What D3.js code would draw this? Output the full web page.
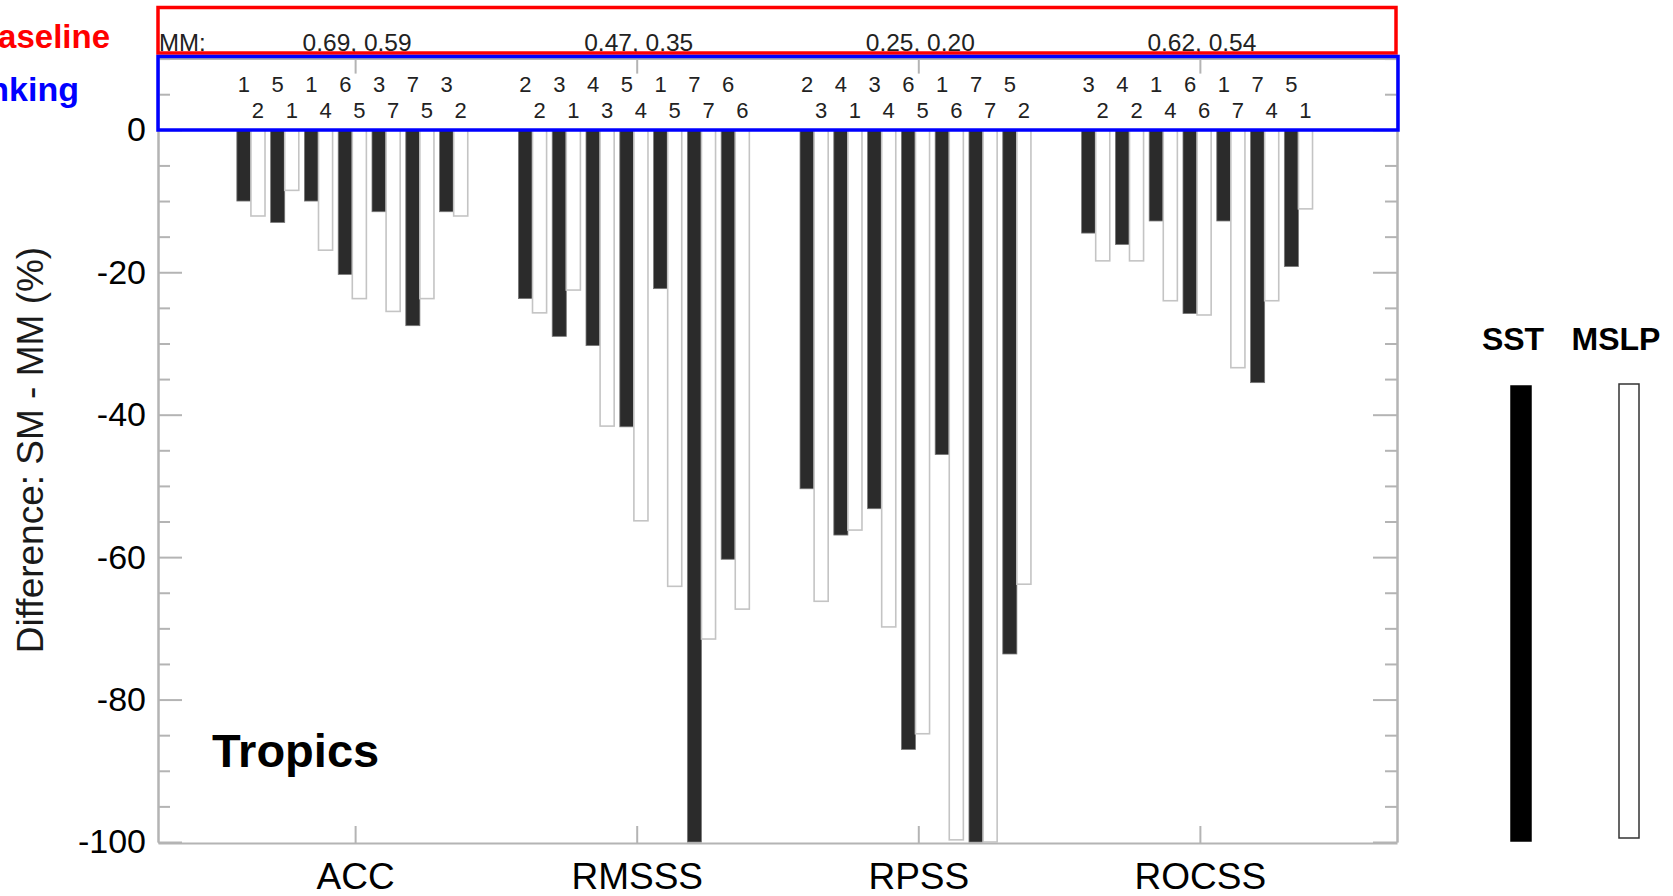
<!DOCTYPE html>
<html>
<head>
<meta charset="utf-8">
<script src="https://cdn.jsdelivr.net/npm/d3@7"></script>
<style>
  body { margin: 0; background: #fff; }
  text { font-family: "Liberation Sans", Arial, Helvetica, sans-serif; }
</style>
</head>
<body>
<svg id="chart"></svg>
<script>
// Data
const categories = ['ACC', 'RMSSS', 'RPSS', 'ROCSS']
const mmScores = ['0.69, 0.59', '0.47, 0.35', '0.25, 0.20', '0.62, 0.54']
const sstDiff = [
    [-10.0, -13.0, -10.0, -20.3, -11.5, -27.5, -11.5],
    [-23.7, -29.0, -30.3, -41.7, -22.3, -100, -60.3],
    [-50.4, -56.9, -53.2, -87.0, -45.6, -100, -73.6],
    [-14.5, -16.1, -12.8, -25.8, -12.8, -35.5, -19.2]
]
const mslpDiff = [
    [-12.1, -8.5, -16.9, -23.7, -25.5, -23.7, -12.1],
    [-25.7, -22.5, -41.6, -54.9, -64.1, -71.5, -67.3],
    [-66.2, -56.2, -69.8, -84.8, -99.7, -100, -63.8],
    [-18.4, -18.4, -24.0, -26.0, -33.4, -24.0, -11.1]
]
const sstRank = [[1, 5, 1, 6, 3, 7, 3], [2, 3, 4, 5, 1, 7, 6], [2, 4, 3, 6, 1, 7, 5], [3, 4, 1, 6, 1, 7, 5]]
const mslpRank = [[2, 1, 4, 5, 7, 5, 2], [2, 1, 3, 4, 5, 7, 6], [3, 1, 4, 5, 6, 7, 2], [2, 2, 4, 6, 7, 4, 1]]
const yMajor = [0, -20, -40, -60, -80, -100]
const yMinor = d3.range(10, -101, -5).filter(v => v % 20 !== 0)

const W = 1673, H = 896
const svg = d3.select('#chart').attr('width', W).attr('height', H)

// Scales
const x = d3.scaleLinear().domain([0.3, 4.7]).range([158, 1397])
const y = d3.scaleLinear().domain([-100, 10]).range([842, 58.6])
const pair = d3.scaleBand().domain(d3.range(7)).range([-0.42, 0.42])
const barW = 0.05

const axisColor = '#b4b4b4'

// Frame / axes
function styleAxis(g) {
    g.selectAll('path, line').attr('stroke', axisColor).attr('stroke-width', 2)
    g.selectAll('text').attr('fill', '#000')
}

svg.append('g').attr('transform', `translate(${x.range()[0]},0)`)
    .call(d3.axisLeft(y).tickValues(yMinor).tickSize(-12).tickSizeOuter(0).tickFormat(''))
    .call(styleAxis)
svg.append('g').attr('transform', `translate(${x.range()[0]},0)`)
    .call(d3.axisLeft(y).tickValues(yMajor).tickSize(-24).tickSizeOuter(0).tickPadding(12).tickFormat(d => String(d)))
    .call(styleAxis)
    .selectAll('text').attr('font-size', 34)

svg.append('g').attr('transform', `translate(${x.range()[1]},0)`)
    .call(d3.axisRight(y).tickValues(yMinor).tickSize(-12).tickSizeOuter(0).tickFormat(''))
    .call(styleAxis)
svg.append('g').attr('transform', `translate(${x.range()[1]},0)`)
    .call(d3.axisRight(y).tickValues(yMajor).tickSize(-24).tickSizeOuter(0).tickFormat(''))
    .call(styleAxis)

svg.append('g').attr('transform', `translate(0,${y.range()[1]})`)
    .call(d3.axisTop(x).tickValues([1, 2, 3, 4]).tickSize(-15).tickSizeOuter(0).tickFormat(''))
    .call(styleAxis)
svg.append('g').attr('transform', `translate(0,${y.range()[0] + 1})`)
    .call(d3.axisBottom(x).tickValues([1, 2, 3, 4]).tickSize(-17).tickSizeOuter(0).tickPadding(20)
        .tickFormat((d, i) => categories[i]))
    .call(styleAxis)
    .selectAll('text').attr('font-size', 37)

// Bars
const groups = svg.append('g').selectAll('g')
    .data(categories)
    .join('g')

groups.selectAll('rect.sst')
    .data((d, gi) => sstDiff[gi].map((v, i) => ({ gi, i, v })))
    .join('rect').attr('class', 'sst')
    .attr('x', d => x(d.gi + 1 + pair(d.i)))
    .attr('width', d => x(d.gi + 1 + pair(d.i) + barW) - x(d.gi + 1 + pair(d.i)))
    .attr('y', y(0))
    .attr('height', d => y(d.v) - y(0))
    .attr('fill', '#2b2b2b')
    .attr('stroke', '#777')
    .attr('stroke-width', 0.8)

groups.selectAll('rect.mslp')
    .data((d, gi) => mslpDiff[gi].map((v, i) => ({ gi, i, v })))
    .join('rect').attr('class', 'mslp')
    .attr('x', d => x(d.gi + 1 + pair(d.i) + barW))
    .attr('width', d => x(d.gi + 1 + pair(d.i) + barW * 2) - x(d.gi + 1 + pair(d.i) + barW))
    .attr('y', y(0))
    .attr('height', d => y(d.v) - y(0))
    .attr('fill', '#fff')
    .attr('stroke', '#c4c4c4')
    .attr('stroke-width', 1.6)

// Ranking labels
groups.selectAll('text.rs')
    .data((d, gi) => sstRank[gi].map((r, i) => ({ gi, i, r })))
    .join('text').attr('class', 'rs')
    .attr('x', d => x(d.gi + 1 + pair(d.i) + barW / 2))
    .attr('y', 92)
    .attr('text-anchor', 'middle')
    .attr('font-size', 22)
    .attr('fill', '#222')
    .text(d => d.r)

groups.selectAll('text.rm')
    .data((d, gi) => mslpRank[gi].map((r, i) => ({ gi, i, r })))
    .join('text').attr('class', 'rm')
    .attr('x', d => x(d.gi + 1 + pair(d.i) + barW * 1.5))
    .attr('y', 118)
    .attr('text-anchor', 'middle')
    .attr('font-size', 22)
    .attr('fill', '#222')
    .text(d => d.r)

// MM scores
groups.append('text')
    .attr('x', (d, gi) => x(gi + 1) + 2)
    .attr('y', 51)
    .attr('text-anchor', 'middle')
    .attr('font-size', 24.5)
    .attr('fill', '#222')
    .text((d, gi) => mmScores[gi])

svg.append('text')
    .attr('x', x.range()[0] + 1)
    .attr('y', 51)
    .attr('font-size', 24)
    .attr('fill', '#222')
    .text('MM:')

// Highlight boxes
svg.append('rect')
    .attr('x', 158).attr('y', 7.5).attr('width', 1238).attr('height', 45.5)
    .attr('fill', 'none').attr('stroke', '#ff0000').attr('stroke-width', 3.5)
svg.append('rect')
    .attr('x', 158).attr('y', 56.5).attr('width', 1240).attr('height', 73.5)
    .attr('fill', 'none').attr('stroke', '#0000ff').attr('stroke-width', 3.5)

// Labels of the two boxes, cut off at the left edge as in the source figure
svg.append('text')
    .attr('x', 110).attr('y', 48)
    .attr('text-anchor', 'end')
    .attr('font-size', 33).attr('font-weight', 'bold')
    .attr('fill', '#ff0000')
    .text('Baseline')
svg.append('text')
    .attr('x', 79).attr('y', 101)
    .attr('text-anchor', 'end')
    .attr('font-size', 34).attr('font-weight', 'bold')
    .attr('fill', '#0000ff')
    .text('Ranking')

// Axis title and region label
svg.append('text')
    .attr('transform', 'translate(43,450) rotate(-90)')
    .attr('text-anchor', 'middle')
    .attr('font-size', 37)
    .attr('fill', '#1a1a1a')
    .text('Difference: SM - MM (%)')

svg.append('text')
    .attr('x', 212).attr('y', 767)
    .attr('font-size', 47).attr('font-weight', 'bold')
    .attr('fill', '#000')
    .text('Tropics')

// Legend
const legend = [
    { name: 'SST', cx: 1521, fill: '#000', stroke: '#000', top: 386, bottom: 841 },
    { name: 'MSLP', cx: 1629, fill: '#fff', stroke: '#333', top: 384, bottom: 838 }
]
const lg = svg.append('g').selectAll('g').data(legend).join('g')
lg.append('text')
    .attr('x', (d, i) => i === 0 ? 1513 : 1616)
    .attr('y', 350)
    .attr('text-anchor', 'middle')
    .attr('font-size', 32).attr('font-weight', 'bold')
    .attr('fill', '#000')
    .text(d => d.name)
lg.append('rect')
    .attr('x', d => d.cx - 10)
    .attr('y', d => d.top)
    .attr('width', 20)
    .attr('height', d => d.bottom - d.top)
    .attr('fill', d => d.fill)
    .attr('stroke', d => d.stroke)
    .attr('stroke-width', 1.5)
</script>
</body>
</html>
